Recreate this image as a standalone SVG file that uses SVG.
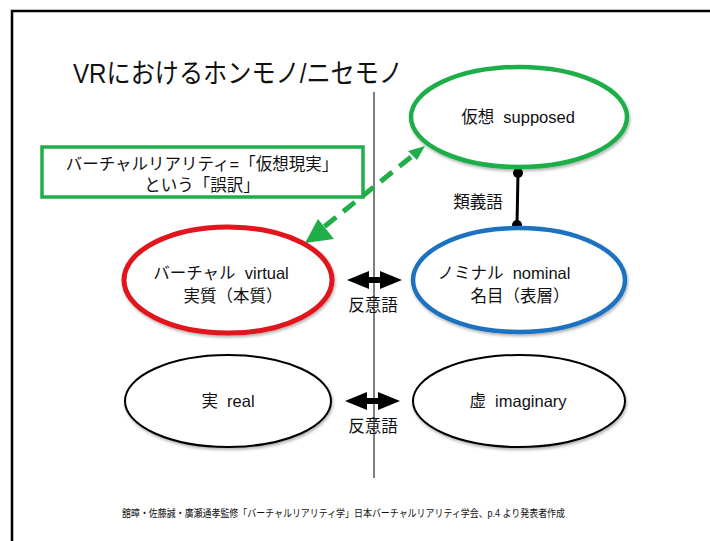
<svg xmlns="http://www.w3.org/2000/svg" width="710" height="541" viewBox="0 0 710 541">
<style>
text{font-family:"Liberation Sans","Noto Sans CJK JP",sans-serif;fill:#111}
.lbl{font-size:16.5px;text-anchor:middle}
.ell{fill:#fff}
</style>
<defs>
<filter id="sh" x="-10%" y="-10%" width="120%" height="130%">
<feDropShadow dx="1" dy="2" stdDeviation="1.5" flood-color="#000" flood-opacity="0.3"/>
</filter>
</defs>
<rect width="710" height="541" fill="#fff"/>
<path d="M12 541 V11 H710" fill="none" stroke="#000" stroke-width="2.5"/>
<text x="73" y="83" font-size="27" textLength="330" lengthAdjust="spacingAndGlyphs">VRにおけるホンモノ/ニセモノ</text>
<line x1="374" y1="92" x2="374" y2="478" stroke="#555" stroke-width="1.5"/>
<g id="connectors">
<line x1="411" y1="157" x2="319" y2="231" stroke="#1fae48" stroke-width="5" stroke-dasharray="15 9"/>
<polygon points="425,146 408,151 417,160" fill="#1fae48"/>
<polygon points="305,243 318,219 334,239" fill="#1fae48"/>
<line x1="518" y1="173" x2="517" y2="225" stroke="#000" stroke-width="3"/>
<circle cx="518" cy="173" r="5" fill="#000"/>
<circle cx="517" cy="225" r="5" fill="#000"/>
<text x="478" y="208" font-size="16.5" text-anchor="middle">類義語</text>
<polygon points="347,280 369,271 369,277 380,277 380,271 402,280 380,289 380,283 369,283 369,289" fill="#000"/>
<text x="373" y="311" class="lbl">反意語</text>
<polygon points="345,401 367,392 367,398 378,398 378,392 400,401 378,410 378,404 367,404 367,410" fill="#000"/>
<text x="373" y="432" class="lbl">反意語</text>
</g>
<g id="note">
<rect x="42" y="147" width="321" height="50" fill="#fff" stroke="#1fae48" stroke-width="3.5"/>
<text x="202" y="170" class="lbl">バーチャルリアリティ=「仮想現実」</text>
<text x="202" y="191" class="lbl">という「誤訳」</text>
</g>
<g id="supposed">
<ellipse cx="519" cy="117" rx="108" ry="50" class="ell" stroke="#1fae48" stroke-width="4.5" filter="url(#sh)"/>
<text x="518" y="123" class="lbl">仮想&#160;&#160;supposed</text>
</g>
<g id="virtual">
<ellipse cx="228" cy="280" rx="104" ry="53" class="ell" stroke="#e0141c" stroke-width="5" filter="url(#sh)"/>
<text x="221" y="279" class="lbl">バーチャル&#160;&#160;virtual</text>
<text x="233" y="302" class="lbl">実質（本質）</text>
</g>
<g id="nominal">
<ellipse cx="519" cy="280" rx="106" ry="52" class="ell" stroke="#1a72c0" stroke-width="4.5" filter="url(#sh)"/>
<text x="504" y="279" class="lbl">ノミナル&#160;&#160;nominal</text>
<text x="520" y="302" class="lbl">名目（表層）</text>
</g>
<g id="real">
<ellipse cx="228" cy="401" rx="103" ry="46" class="ell" stroke="#000" stroke-width="2" filter="url(#sh)"/>
<text x="228" y="407" class="lbl">実&#160;&#160;real</text>
</g>
<g id="imaginary">
<ellipse cx="519" cy="401" rx="106" ry="46" class="ell" stroke="#000" stroke-width="2" filter="url(#sh)"/>
<text x="518" y="407" class="lbl">虚&#160;&#160;imaginary</text>
</g>
<text x="122" y="517" font-size="10.5" textLength="443" lengthAdjust="spacingAndGlyphs">舘暲・佐藤誠・廣瀬通孝監修「バーチャルリアリティ学」日本バーチャルリアリティ学会、p.4 より発表者作成</text>
</svg>
